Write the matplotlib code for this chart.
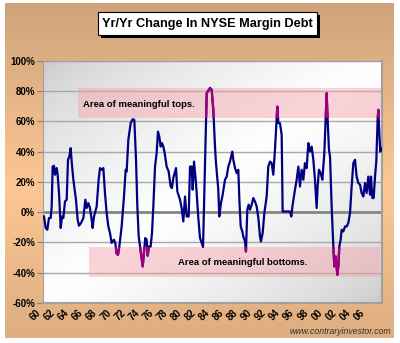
import numpy as np
import matplotlib.pyplot as plt
from matplotlib.patches import Rectangle
from matplotlib.transforms import ScaledTranslation

plt.rcParams['font.family'] = ['Liberation Sans', 'DejaVu Sans']

# Yr/Yr change in NYSE margin debt, read monthly-ish (fractional year, %)
years = [
    1960.10, 1960.34, 1960.57, 1960.81, 1961.05, 1961.19, 1961.33, 1961.52, 1961.66, 1961.90,
    1962.04, 1962.23, 1962.47, 1962.66, 1962.85, 1963.08, 1963.32, 1963.51, 1963.70, 1963.89,
    1964.03, 1964.27, 1964.64, 1964.88, 1965.07, 1965.36, 1965.69, 1965.97, 1966.16, 1966.40,
    1966.63, 1966.87, 1967.01, 1967.20, 1967.58, 1967.86, 1968.05, 1968.29, 1968.53, 1968.76,
    1969.00, 1969.24, 1969.47, 1969.71, 1969.85, 1970.04, 1970.23, 1970.42, 1970.61, 1970.80,
    1971.13, 1971.46, 1971.70, 1971.84, 1972.08, 1972.41, 1972.69, 1972.93, 1973.17, 1973.36,
    1973.55, 1973.74, 1973.93, 1974.12, 1974.30, 1974.49, 1974.68, 1974.83, 1975.01, 1975.25,
    1975.44, 1975.63, 1975.87, 1976.10, 1976.29, 1976.48, 1976.67, 1976.86, 1977.05, 1977.24,
    1977.52, 1977.81, 1978.09, 1978.28, 1978.47, 1978.85, 1979.04, 1979.42, 1979.65, 1979.89,
    1980.13, 1980.37, 1980.65, 1980.84, 1981.08, 1981.22, 1981.41, 1981.69, 1982.02, 1982.26,
    1982.69, 1983.21, 1983.68, 1983.92, 1984.15, 1984.39, 1984.53, 1984.86, 1985.00, 1985.24,
    1985.48, 1985.81, 1986.05, 1986.28, 1986.52, 1986.85, 1986.99, 1987.23, 1987.47, 1987.70,
    1987.85, 1988.04, 1988.27, 1988.41, 1988.65, 1988.79, 1988.98, 1989.17, 1989.36, 1989.60,
    1989.83, 1990.07, 1990.31, 1990.55, 1990.78, 1990.92, 1991.16, 1991.40, 1991.73, 1991.96,
    1992.20, 1992.44, 1992.67, 1992.91, 1993.15, 1993.24, 1993.39, 1993.62, 1993.86, 1994.00,
    1995.04, 1995.23, 1995.42, 1995.75, 1995.99, 1996.23, 1996.46, 1996.70, 1996.94, 1997.17,
    1997.41, 1997.65, 1997.88, 1998.12, 1998.36, 1998.59, 1998.83, 1998.97, 1999.16, 1999.40,
    1999.64, 1999.92, 2000.11, 2000.25, 2000.39, 2000.58, 2000.73, 2000.96, 2001.20, 2001.34,
    2001.53, 2001.77, 2001.91, 2002.05, 2002.24, 2002.38, 2002.62, 2002.86, 2003.09, 2003.33,
    2003.57, 2003.80, 2004.04, 2004.28, 2004.51, 2004.75, 2004.99, 2005.22, 2005.46, 2005.70,
    2005.93, 2006.17, 2006.41, 2006.55, 2006.74, 2006.93, 2007.12, 2007.30, 2007.49, 2007.59,
    2007.73, 2007.87, 2008.00,
]
change = [
    -2.8, -10.4, -11.6, -3.8, -3.8, 3.8, 30.2, 30.7, 24.8, 29.2,
    24.8, 12.7, -10.4, -2.8, -3.8, 7.1, 8.3, 34.7, 36.8, 42.4,
    33.5, 21.5, 8.3, -5.0, -8.9, -7.1, -3.8, 8.3, 2.8, 6.1,
    2.8, -5.0, -10.4, -2.8, 3.8, 21.5, 29.2, 28.1, 29.2, 12.7,
    -0.5, -9.4, -13.7, -20.3, -19.3, -18.2, -20.3, -27.4, -28.1, -22.6,
    -9.4, 10.4, 28.1, 26.9, 47.9, 58.9, 61.5, 61.1, 34.7, 3.8,
    -16.0, -22.6, -29.2, -35.8, -26.9, -17.0, -18.2, -28.7, -22.6, -22.6,
    -13.7, 3.8, 30.2, 39.1, 53.3, 50.0, 43.4, 45.7, 43.4, 39.1,
    30.2, 26.9, 17.0, 16.0, 22.6, 29.2, 13.7, 8.3, 2.8, -6.1,
    10.4, -2.8, -2.8, 30.2, 30.2, 14.9, 33.5, 19.3, -3.8, -17.0,
    -23.0, 78.7, 82.2, 80.9, 67.7, 43.4, 32.5, 14.9, -2.8, 6.1,
    11.6, 21.5, 23.6, 30.2, 33.5, 40.1, 34.7, 29.2, 25.9, 28.1,
    8.3, -9.4, -12.7, -16.0, -19.3, -25.9, 1.7, 5.0, 1.7, 5.0,
    9.4, 7.1, 3.8, -3.8, -16.0, -19.3, -13.7, -0.5, 10.4, 30.2,
    33.5, 32.5, 24.8, 41.3, 62.2, 69.8, 58.9, 58.9, 51.2, 0.5,
    0.5, -2.8, 5.0, 14.9, 21.5, 30.2, 17.0, 28.1, 21.5, 32.5,
    29.2, 45.7, 40.1, 43.4, 34.7, 21.5, 2.8, 17.0, 28.1, 25.9,
    21.5, 39.1, 61.1, 78.7, 61.1, 41.3, 36.8, 3.8, -22.6, -35.8,
    -29.2, -41.3, -35.8, -22.6, -18.2, -11.6, -12.7, -9.4, -9.4, -7.1,
    -0.5, 17.0, 32.5, 34.7, 23.6, 19.3, 18.2, 12.7, 10.4, 19.3,
    12.7, 23.6, 11.6, 23.6, 9.4, 9.4, 23.6, 33.5, 61.1, 67.7,
    52.3, 40.1, 42.4,
]

tick_years = list(range(1960, 2007, 2))
tick_labels = ['%02d' % (y % 100) for y in tick_years]
y_ticks = [-60, -40, -20, 0, 20, 40, 60, 80, 100]

# shaded zones: (x0, x1, y0, y1, label, label_x, label_y)
zonas = [
    (1964.97, 2008.1, 62, 82, 'Area of meaningful tops.', 1965.7, 71.5),
    (1966.5, 2007.8, -42.7, -23, 'Area of meaningful bottoms.', 1979.1, -33.0),
]

fig = plt.figure(figsize=(4, 3.43), dpi=100, facecolor='white')

# tan/peach frame background (vertical gradient)
bg = fig.add_axes([5 / 400, 1 - 338 / 343, 389 / 400, 335 / 343])
t = np.linspace(0, 1, 256)
c_top = np.array([0.81, 0.64, 0.48])
c_mid = np.array([0.99, 0.78, 0.58])
c_bot = np.array([0.84, 0.66, 0.49])
w = np.clip(1 - np.abs(t - 0.55) / 0.55, 0, 1)[:, None]
w_low = (t > 0.55)[:, None]
edge = np.where(w_low, c_bot, c_top)
grad = edge * (1 - w) + c_mid * w
bg.imshow(grad[:, None, :], aspect='auto', extent=[0, 1, 0, 1])
bg.axis('off')

ax = fig.add_axes([43.3 / 400, 1 - 303 / 343, 338.4 / 400, 242 / 343])

# plot area: gray in the corners, white along the diagonal
gx, gy = np.meshgrid(np.linspace(0, 1, 200), np.linspace(0, 1, 200))
d = (gx + gy) / 2
gris = 0.78 + 0.22 * np.clip(1 - np.abs(d - 0.5) / 0.5, 0, 1) ** 0.6
ax.imshow(np.dstack([gris, gris, gris]), extent=[0, 1, 0, 1], transform=ax.transAxes,
          aspect='auto', zorder=0)

for yv in y_ticks:
    if yv == 0:
        ax.axhline(yv, color='#858585', lw=2.0, zorder=1)
    else:
        ax.axhline(yv, color='#a8a8a8', lw=1.0, zorder=1)

for x0, x1, y0, y1, txt, tx, ty in zonas:
    ax.add_patch(Rectangle((x0, y0), x1 - x0, y1 - y0, facecolor='#f4a0a8', alpha=0.45,
                           edgecolor='none', zorder=2))
    ax.text(tx, ty, txt, fontsize=6.8, fontweight='bold', va='center', ha='left', zorder=5)

ax.plot(years, change, color='#000080', lw=1.6, zorder=3, solid_joinstyle='round')
for x0, x1, y0, y1, txt, tx, ty in zonas:
    clip = Rectangle((x0, y0), x1 - x0, y1 - y0, transform=ax.transData)
    ln, = ax.plot(years, change, color='#a0007c', lw=1.6, zorder=4, solid_joinstyle='round')
    ln.set_clip_path(clip)

ax.set_xlim(1960, 2008.07)
ax.set_ylim(-60, 100)

ax.set_yticks(y_ticks)
ax.set_yticklabels(['%d%%' % v for v in y_ticks], fontsize=7, fontweight='bold')
ax.tick_params(axis='y', length=4, width=0.8, color='#808080', pad=2)

ax.set_xticks(tick_years)
ax.set_xticklabels(tick_labels, fontsize=7, fontweight='bold', rotation=45,
                   ha='right', va='center', rotation_mode='anchor')
ax.tick_params(axis='x', length=0, pad=6)
off = ScaledTranslation(-4 / 100, 0, fig.dpi_scale_trans)
for lab in ax.get_xticklabels():
    lab.set_transform(lab.get_transform() + off)

for lado, sp in ax.spines.items():
    sp.set_color('#a0a0a0')
    sp.set_linewidth(1.5 if lado in ('right', 'bottom') else 0.8)

# title box with drop shadow
tx0, ty0, tw, th = 98 / 400, 1 - 35 / 343, 219 / 400, 23 / 343
fig.patches.append(Rectangle((tx0 + 3 / 400, ty0 - 3 / 343), tw, th, transform=fig.transFigure,
                             facecolor='black', edgecolor='none', zorder=5))
fig.patches.append(Rectangle((tx0, ty0), tw, th, transform=fig.transFigure,
                             facecolor='white', edgecolor='black', lw=0.8, zorder=6))
fig.text(tx0 + tw / 2, ty0 + th / 2, 'Yr/Yr Change In NYSE Margin Debt', fontsize=9.2,
         fontweight='bold', ha='center', va='center', zorder=7)

fig.text(391 / 400, 1 - 332 / 343, 'www.contraryinvestor.com', fontsize=6.3, style='italic',
         color='#333333', ha='right', va='center')

fig.savefig('out.png', dpi=100, facecolor=fig.get_facecolor())
